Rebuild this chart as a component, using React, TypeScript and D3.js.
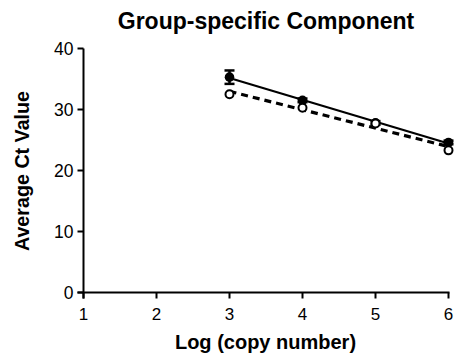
import React from "react";
import * as d3 from "d3";

const xValues = [3, 4, 5, 6];
const filledValues = [35.3, 31.5, 27.8, 24.6];
const filledErrors = [1.1, 0.3, 0.3, 0.3];
const openValues = [32.5, 30.3, 27.7, 23.3];
const xTicks = [1, 2, 3, 4, 5, 6];
const yTicks = [0, 10, 20, 30, 40];
const title = "Group-specific Component";
const xLabel = "Log (copy number)";
const yLabel = "Average Ct Value";

function fit(xs: number[], ys: number[]) {
  const mx = d3.mean(xs)!;
  const my = d3.mean(ys)!;
  let num = 0, den = 0;
  xs.forEach((x, i) => { num += (x - mx) * (ys[i] - my); den += (x - mx) ** 2; });
  const slope = num / den;
  return (x: number) => my + slope * (x - mx);
}

export default function App() {
  const W = 454, H = 356;
  const x = d3.scaleLinear().domain([1, 6]).range([83.5, 448.5]);
  const y = d3.scaleLinear().domain([0, 40]).range([292.5, 48.5]);
  const font = "'Liberation Sans', Arial, sans-serif";
  const f1 = fit(xValues, filledValues);
  const f2 = fit(xValues, openValues);
  const line = d3.line<[number, number]>().x(d => x(d[0])).y(d => y(d[1]));
  return (
    <svg width={W} height={H} style={{ position: "absolute", left: 0, top: 0 }} fontFamily={font}>
      <text x={266} y={29} textAnchor="middle" fontSize={23} fontWeight="bold">{title}</text>
      {/* axes */}
      <line x1={x(1)} x2={x(1)} y1={y(40)} y2={y(0) + 6} stroke="black" strokeWidth={2} />
      <line x1={x(1) - 6} x2={x(6) + 1} y1={y(0)} y2={y(0)} stroke="black" strokeWidth={2} />
      {yTicks.map(t => (
        <g key={"y" + t}>
          <line x1={x(1) - 6} x2={x(1)} y1={y(t)} y2={y(t)} stroke="black" strokeWidth={2} />
          <text x={x(1) - 10} y={y(t)} dy="0.36em" textAnchor="end" fontSize={17.5}>{t}</text>
        </g>
      ))}
      {xTicks.map(t => (
        <g key={"x" + t}>
          <line x1={x(t)} x2={x(t)} y1={y(0)} y2={y(0) + 6} stroke="black" strokeWidth={2} />
          <text x={x(t)} y={319.5} textAnchor="middle" fontSize={17}>{t}</text>
        </g>
      ))}
      <text x={265.5} y={349} textAnchor="middle" fontSize={20} fontWeight="bold">{xLabel}</text>
      <text transform="translate(29,171) rotate(-90)" textAnchor="middle" fontSize={19.7} fontWeight="bold">{yLabel}</text>
      {/* regression lines */}
      <path d={line([[3, f1(3)], [6, f1(6)]])!} stroke="black" strokeWidth={2.2} fill="none" />
      <path d={line([[3, f2(3)], [6, f2(6)]])!} stroke="black" strokeWidth={3.2} strokeDasharray="7,5" fill="none" />
      {/* error bars */}
      {xValues.map((xv, i) => (
        <g key={"e" + i}>
          <line x1={x(xv)} x2={x(xv)} y1={y(filledValues[i] - filledErrors[i])} y2={y(filledValues[i] + filledErrors[i])} stroke="black" strokeWidth={2.5} />
          <line x1={x(xv) - 5} x2={x(xv) + 5} y1={y(filledValues[i] + filledErrors[i])} y2={y(filledValues[i] + filledErrors[i])} stroke="black" strokeWidth={2.5} />
          <line x1={x(xv) - 5} x2={x(xv) + 5} y1={y(filledValues[i] - filledErrors[i])} y2={y(filledValues[i] - filledErrors[i])} stroke="black" strokeWidth={2.5} />
        </g>
      ))}
      {xValues.map((xv, i) => (
        <circle key={"f" + i} cx={x(xv)} cy={y(filledValues[i])} r={4.8} fill="black" />
      ))}
      {xValues.map((xv, i) => (
        <circle key={"o" + i} cx={x(xv)} cy={y(openValues[i])} r={4} fill="white" stroke="black" strokeWidth={2} />
      ))}
    </svg>
  );
}
